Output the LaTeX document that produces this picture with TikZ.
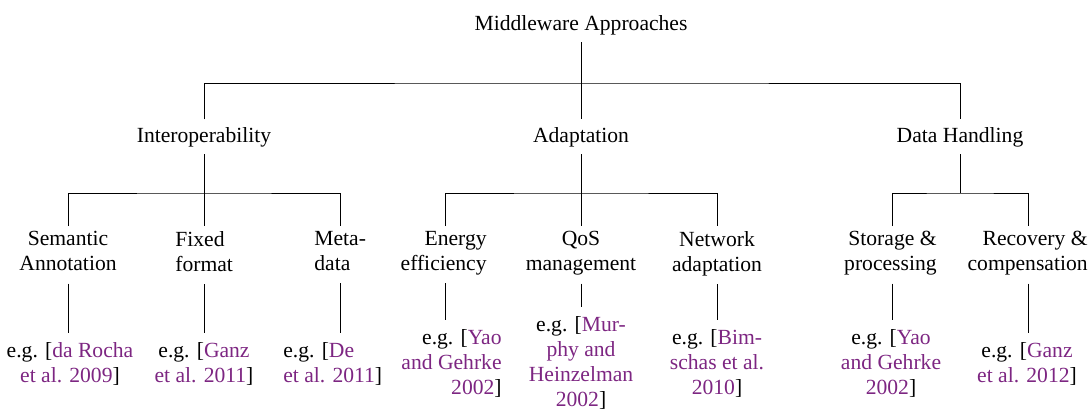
\documentclass[tikz,border=0pt]{standalone}
\usepackage{fontspec}
\setmainfont{Liberation Serif}
\definecolor{citeP}{RGB}{125,38,130}
\newcommand{\cit}[1]{\textcolor{citeP}{#1}}
\begin{document}
\begin{tikzpicture}[x=0.5pt,y=-0.5pt,
  every node/.style={inner xsep=0pt,inner ysep=3.6pt,font=\fontsize{10.8}{12.5}\selectfont},
  lvtwo/.style={inner ysep=2.5pt},
  leaf/.style={inner ysep=4.6pt},
  conn/.style={line width=0.4pt,draw=black}]
\useasboundingbox (0,0) rectangle (1090,412);
% column coordinates
\coordinate (kSem) at (68,0);
\coordinate (kFix) at (204,0);
\coordinate (kMeta) at (340,0);
\coordinate (kEn) at (445,0);
\coordinate (kQos) at (581,0);
\coordinate (kNet) at (717,0);
\coordinate (kSto) at (892,0);
\coordinate (kRec) at (1028,0);
% root and level 1
\node[anchor=base] (root) at (581,30) {Middleware Approaches};
\node[anchor=base] (int) at (204,142) {Interoperability};
\node[anchor=base] (ada) at (581,142) {Adaptation};
\node[anchor=base] (dh) at (960,142) {Data Handling};
% level 2
\node[lvtwo,anchor=north,align=center] (sem) at (68,226) {Semantic\\Annotation\strut};
\node[lvtwo,anchor=north west,align=left] (fix) at (175,226) {Fixed\\format\strut};
\node[lvtwo,anchor=north west,align=left] (meta) at (314,226) {Meta-\\data\strut};
\node[lvtwo,anchor=north east,align=right] (en) at (487,226) {Energy\\efficiency\strut};
\node[lvtwo,anchor=north,align=center] (qos) at (581,226) {QoS\\management\strut};
\node[lvtwo,anchor=north,align=center] (net) at (717,226) {Network\\adaptation\strut};
\node[lvtwo,anchor=north east,align=right] (sto) at (937,226) {Storage \&\\processing\strut};
\node[lvtwo,anchor=north east,align=right] (rec) at (1088,226) {Recovery \&\\compensation\strut};
% leaves
\node[leaf,anchor=north,align=center] (semL) at (70,333) {e.g. [\cit{da Rocha}\\\cit{et al. 2009}]};
\node[leaf,anchor=north,align=center] (fixL) at (204,333) {e.g. [\cit{Ganz}\\\cit{et al. 2011}]};
\node[leaf,anchor=north west,align=left] (metaL) at (283,333) {e.g. [\cit{De}\\\cit{et al. 2011}]};
\node[leaf,anchor=north east,align=right] (enL) at (502,320) {e.g. [\cit{Yao}\\\cit{and Gehrke}\\\cit{2002}]};
\node[leaf,anchor=north,align=center] (qosL) at (581,307) {e.g. [\cit{Mur-}\\\cit{phy and}\\\cit{Heinzelman}\\\cit{2002}]};
\node[leaf,anchor=north,align=center] (netL) at (717,320) {e.g. [\cit{Bim-}\\\cit{schas et al.}\\\cit{2010}]};
\node[leaf,anchor=north,align=center] (stoL) at (891,320) {e.g. [\cit{Yao}\\\cit{and Gehrke}\\\cit{2002}]};
\node[leaf,anchor=north,align=center] (recL) at (1027,333) {e.g. [\cit{Ganz}\\\cit{et al. 2012}]};
% bars
\coordinate (bar0) at (581,83);
\coordinate (barI) at (204,193);
\coordinate (barA) at (581,193);
\coordinate (barD) at (960,193);
% connectors root -> level 1
\draw[conn] (root.south) -- (bar0);
\draw[conn] (int.north) |- (bar0) -| (dh.north);
\draw[conn] (bar0) -- (ada.north);
% level 1 -> level 2
\draw[conn] (int.south) -- (barI);
\draw[conn] (kSem |- sem.north) |- (barI) -| (kMeta |- meta.north);
\draw[conn] (barI) -- (kFix |- fix.north);
\draw[conn] (ada.south) -- (barA);
\draw[conn] (kEn |- en.north) |- (barA) -| (kNet |- net.north);
\draw[conn] (barA) -- (kQos |- qos.north);
\draw[conn] (dh.south) -- (barD);
\draw[conn] (kSto |- sto.north) |- (barD) -| (kRec |- rec.north);
% level 2 -> leaves
\draw[conn] (kSem |- sem.south) -- (kSem |- semL.north);
\draw[conn] (kFix |- fix.south) -- (kFix |- fixL.north);
\draw[conn] (kMeta |- meta.south) -- (kMeta |- metaL.north);
\draw[conn] (kEn |- en.south) -- (kEn |- enL.north);
\draw[conn] (kQos |- qos.south) -- (kQos |- qosL.north);
\draw[conn] (kNet |- net.south) -- (kNet |- netL.north);
\draw[conn] (kSto |- sto.south) -- (kSto |- stoL.north);
\draw[conn] (kRec |- rec.south) -- (kRec |- recL.north);
\end{tikzpicture}
\end{document}
